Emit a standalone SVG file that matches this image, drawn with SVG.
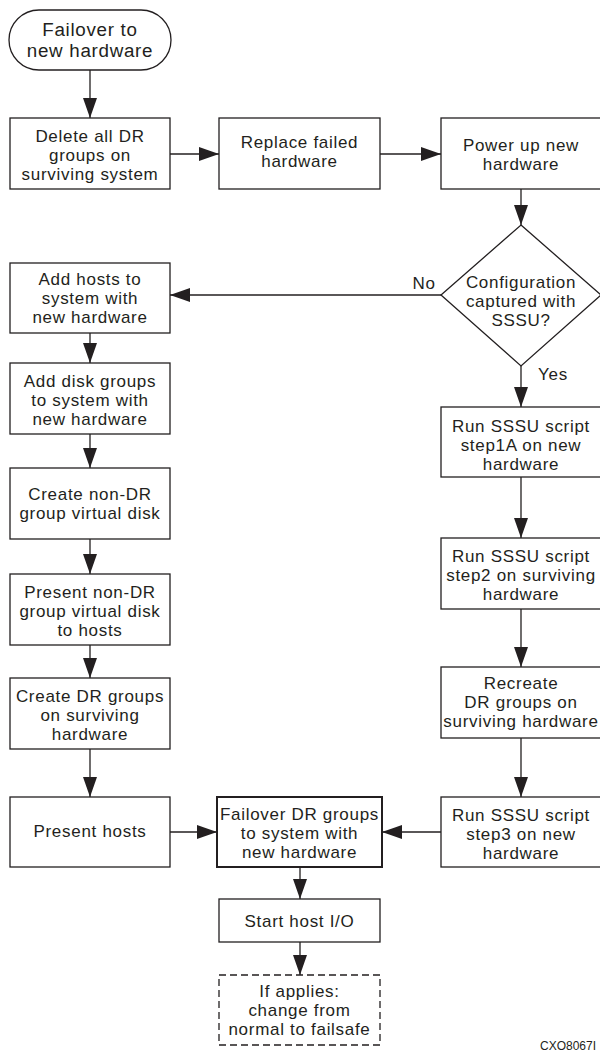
<svg xmlns="http://www.w3.org/2000/svg" width="600" height="1053" viewBox="0 0 600 1053">
<style>
.box{fill:#fff;stroke:#231f20;stroke-width:1.3}
.bold{stroke-width:2}
.dash{stroke-dasharray:7,4}
.t{font-family:"Liberation Sans",Arial,sans-serif;font-size:17px;letter-spacing:0.7px;fill:#231f20;text-anchor:middle}
.tt{font-family:"Liberation Sans",Arial,sans-serif;font-size:18.8px;letter-spacing:0.7px;fill:#231f20;text-anchor:middle}
.lbl{font-family:"Liberation Sans",Arial,sans-serif;font-size:17px;letter-spacing:0.7px;fill:#231f20}
.code{font-family:"Liberation Sans",Arial,sans-serif;font-size:12px;fill:#231f20}
.c{stroke:#231f20;stroke-width:1.3;fill:none;marker-end:url(#ah)}
</style>
<defs>
<marker id="ah" markerUnits="userSpaceOnUse" markerWidth="20" markerHeight="14" refX="20" refY="7" orient="auto">
<path d="M0,0 L20,7 L0,14 z" fill="#231f20"/>
</marker>
</defs>
<rect width="600" height="1053" fill="#fff"/>
<g id="connectors">
<line class="c" x1="90" y1="70" x2="90" y2="118"/>
<line class="c" x1="170" y1="154" x2="219" y2="154"/>
<line class="c" x1="380" y1="154" x2="441" y2="154"/>
<line class="c" x1="521" y1="189" x2="521" y2="225"/>
<line class="c" x1="441" y1="295" x2="170" y2="295"/>
<line class="c" x1="521" y1="366" x2="521" y2="407"/>
<line class="c" x1="521" y1="477" x2="521" y2="538"/>
<line class="c" x1="521" y1="609" x2="521" y2="667"/>
<line class="c" x1="521" y1="738" x2="521" y2="797"/>
<line class="c" x1="90" y1="333" x2="90" y2="363"/>
<line class="c" x1="90" y1="434" x2="90" y2="468"/>
<line class="c" x1="90" y1="539" x2="90" y2="574"/>
<line class="c" x1="90" y1="645" x2="90" y2="678"/>
<line class="c" x1="90" y1="749" x2="90" y2="797"/>
<line class="c" x1="170" y1="832" x2="217" y2="832"/>
<line class="c" x1="441" y1="832" x2="382" y2="832"/>
<line class="c" x1="300" y1="867" x2="300" y2="899"/>
<line class="c" x1="300" y1="942" x2="300" y2="975"/>
<text class="lbl" x="424" y="289" text-anchor="middle">No</text>
<text class="lbl" x="538" y="380">Yes</text>
</g>
<g id="start">
<rect class="box" x="9" y="10" width="162" height="60" rx="30" ry="30"/>
<text class="tt" x="90" y="35.5">Failover to</text>
<text class="tt" x="90" y="57">new hardware</text>
</g>
<g id="delete">
<rect class="box" x="10" y="118" width="160" height="71"/>
<text class="t" x="90" y="141.5">Delete all DR</text>
<text class="t" x="90" y="160.5">groups on</text>
<text class="t" x="90" y="179.5">surviving system</text>
</g>
<g id="replace">
<rect class="box" x="219" y="118" width="161" height="71"/>
<text class="t" x="299.5" y="148">Replace failed</text>
<text class="t" x="299.5" y="167">hardware</text>
</g>
<g id="powerup">
<rect class="box" x="441" y="118" width="162" height="71"/>
<text class="t" x="521" y="151">Power up new</text>
<text class="t" x="521" y="170">hardware</text>
</g>
<g id="decision">
<polygon class="box" points="521,225 601,295 521,366 441,295"/>
<text class="t" x="521" y="287.5">Configuration</text>
<text class="t" x="521" y="306.5">captured with</text>
<text class="t" x="521" y="325.5">SSSU?</text>
</g>
<g id="addhosts">
<rect class="box" x="10" y="263" width="160" height="70"/>
<text class="t" x="90" y="285">Add hosts to</text>
<text class="t" x="90" y="304">system with</text>
<text class="t" x="90" y="323">new hardware</text>
</g>
<g id="adddisk">
<rect class="box" x="10" y="363" width="160" height="71"/>
<text class="t" x="90" y="387">Add disk groups</text>
<text class="t" x="90" y="406">to system with</text>
<text class="t" x="90" y="425">new hardware</text>
</g>
<g id="createnondr">
<rect class="box" x="10" y="468" width="160" height="71"/>
<text class="t" x="90" y="500">Create non-DR</text>
<text class="t" x="90" y="519">group virtual disk</text>
</g>
<g id="presentnondr">
<rect class="box" x="10" y="574" width="160" height="71"/>
<text class="t" x="90" y="598">Present non-DR</text>
<text class="t" x="90" y="617">group virtual disk</text>
<text class="t" x="90" y="636">to hosts</text>
</g>
<g id="createdr">
<rect class="box" x="10" y="678" width="160" height="71"/>
<text class="t" x="90" y="701.5">Create DR groups</text>
<text class="t" x="90" y="720.5">on surviving</text>
<text class="t" x="90" y="739.5">hardware</text>
</g>
<g id="presenthosts">
<rect class="box" x="10" y="797" width="160" height="70"/>
<text class="t" x="90" y="837">Present hosts</text>
</g>
<g id="step1a">
<rect class="box" x="441" y="407" width="162" height="70"/>
<text class="t" x="521" y="431.5">Run SSSU script</text>
<text class="t" x="521" y="450.5">step1A on new</text>
<text class="t" x="521" y="469.5">hardware</text>
</g>
<g id="step2">
<rect class="box" x="441" y="538" width="162" height="71"/>
<text class="t" x="521" y="561.5">Run SSSU script</text>
<text class="t" x="521" y="580.5">step2 on surviving</text>
<text class="t" x="521" y="599.5">hardware</text>
</g>
<g id="recreate">
<rect class="box" x="441" y="667" width="162" height="71"/>
<text class="t" x="521" y="688.5">Recreate</text>
<text class="t" x="521" y="707.5">DR groups on</text>
<text class="t" x="521" y="726.5">surviving hardware</text>
</g>
<g id="step3">
<rect class="box" x="441" y="797" width="162" height="70"/>
<text class="t" x="521" y="820.5">Run SSSU script</text>
<text class="t" x="521" y="839.5">step3 on new</text>
<text class="t" x="521" y="858.5">hardware</text>
</g>
<g id="failoverdr">
<rect class="box bold" x="217" y="797" width="165" height="70"/>
<text class="t" x="299.5" y="820">Failover DR groups</text>
<text class="t" x="299.5" y="839">to system with</text>
<text class="t" x="299.5" y="858">new hardware</text>
</g>
<g id="starthost">
<rect class="box" x="219" y="899" width="161" height="43"/>
<text class="t" x="299.5" y="926.7">Start host I/O</text>
</g>
<g id="failsafe">
<rect class="box dash" x="219" y="975" width="161" height="70"/>
<text class="t" x="299.5" y="997">If applies:</text>
<text class="t" x="299.5" y="1016">change from</text>
<text class="t" x="299.5" y="1035">normal to failsafe</text>
</g>
<text class="code" x="540" y="1050">CXO8067I</text>
</svg>
